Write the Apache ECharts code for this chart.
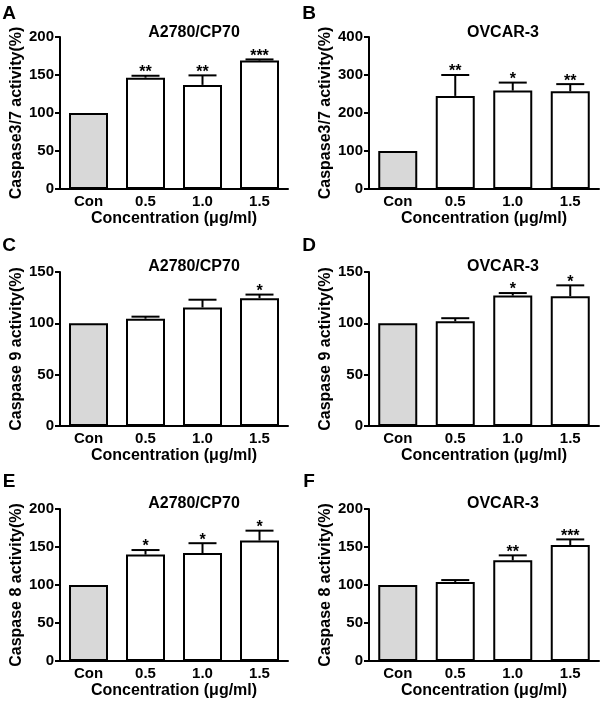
<!DOCTYPE html>
<html>
<head>
<meta charset="utf-8">
<script src="https://cdn.jsdelivr.net/npm/echarts@6/dist/echarts.min.js"></script>
<style>html,body{margin:0;padding:0;background:#fff}#c{width:600px;height:702px}</style>
</head>
<body>
<div id="c"></div>
<script>
const categories = ['Con', '0.5', '1.0', '1.5'];

const aMean = [100, 146.5, 137, 169];
const aErr  = [0, 2.5, 12.5, 1.5];
const aSig  = ['', '**', '**', '***'];

const bMean = [100, 245, 259, 257];
const bErr  = [0, 55, 21, 19];
const bSig  = ['', '**', '*', '**'];

const cMean = [100, 104.5, 115.5, 124.5];
const cErr  = [0, 2, 7.5, 3.5];
const cSig  = ['', '', '', '*'];

const dMean = [100, 102, 127, 126.5];
const dErr  = [0, 3, 2.5, 10.5];
const dSig  = ['', '', '*', '*'];

const eMean = [100, 140, 142, 158.5];
const eErr  = [0, 6, 13, 13];
const eSig  = ['', '*', '*', '*'];

const fMean = [100, 104, 132.5, 152.5];
const fErr  = [0, 2.5, 6.5, 7.5];
const fSig  = ['', '', '**', '***'];

const yMaxes = [200, 400, 150, 150, 200, 200];
const yIntervals = [50, 100, 50, 50, 50, 50];
const yNames = ['Caspase3/7 activity(%)', 'Caspase3/7 activity(%)', 'Caspase 9 activity(%)', 'Caspase 9 activity(%)', 'Caspase 8 activity(%)', 'Caspase 8 activity(%)'];
const xName = 'Concentration (\u03bcg/ml)';
const titles = ['A2780/CP70', 'OVCAR-3', 'A2780/CP70', 'OVCAR-3', 'A2780/CP70', 'OVCAR-3'];
const letters = ['A', 'B', 'C', 'D', 'E', 'F'];

const panels = [
  [aMean, aErr, aSig], [bMean, bErr, bSig],
  [cMean, cErr, cSig], [dMean, dErr, dSig],
  [eMean, eErr, eSig], [fMean, fErr, fSig]
];

const FONT = '"Liberation Sans", Arial, sans-serif';
const colLeft = [60, 369];
const colWidth = [228, 230];
const rowTop = [37, 272, 509];
const rowHeight = [152, 154, 152];
const letterX = [9, 309];
const letterY = [14, 246, 482];
const titleX = [194, 503];
const titleY = [33, 267, 504];

const grids = [], xAxes = [], yAxes = [], series = [], graphics = [];
panels.forEach((p, i) => {
  const col = i % 2, row = Math.floor(i / 2);
  grids.push({ left: colLeft[col], top: rowTop[row], width: colWidth[col], height: rowHeight[row] });
  xAxes.push({
    type: 'category', gridIndex: i, data: categories,
    axisLine: { lineStyle: { color: '#000', width: 2 } },
    axisTick: { show: false },
    axisLabel: { color: '#000', fontWeight: 'bold', fontSize: 15, fontFamily: FONT, margin: 5 },
    name: xName, nameLocation: 'middle', nameGap: 22,
    nameTextStyle: { color: '#000', fontWeight: 'bold', fontSize: 16, fontFamily: FONT }
  });
  yAxes.push({
    type: 'value', gridIndex: i, min: 0, max: yMaxes[i], interval: yIntervals[i],
    axisLine: { show: true, lineStyle: { color: '#000', width: 2 } },
    axisTick: { show: true, length: 5, lineStyle: { color: '#000', width: 2 } },
    splitLine: { show: false },
    axisLabel: { color: '#000', fontWeight: 'bold', fontSize: 15, fontFamily: FONT, margin: 6 },
    name: yNames[i], nameLocation: 'middle', nameGap: 33, nameRotate: 90,
    nameTextStyle: { color: '#000', fontWeight: 'bold', fontSize: 16, fontFamily: FONT }
  });
  const mean = p[0], err = p[1], sig = p[2];
  series.push({
    type: 'bar', xAxisIndex: i, yAxisIndex: i, barWidth: 39,
    data: mean.map((v, k) => ({
      value: v,
      itemStyle: { color: k === 0 ? '#d8d8d8' : '#ffffff', borderColor: '#000', borderWidth: 2 }
    })),
    silent: true, animation: false
  });
  series.push({
    type: 'custom', xAxisIndex: i, yAxisIndex: i,
    data: mean.map((v, k) => [k, v, err[k]]),
    encode: { x: 0, y: 1 },
    silent: true, animation: false, z: 5,
    renderItem: function (params, api) {
      const k = api.value(0), m = api.value(1), e = api.value(2);
      const base = api.coord([k, m]);
      const top = api.coord([k, m + e]);
      const half = 14;
      const children = [];
      if (e > 0) {
        children.push({ type: 'line', shape: { x1: base[0], y1: base[1], x2: top[0], y2: top[1] }, style: { stroke: '#000', lineWidth: 2 } });
        children.push({ type: 'line', shape: { x1: top[0] - half, y1: top[1], x2: top[0] + half, y2: top[1] }, style: { stroke: '#000', lineWidth: 2 } });
      }
      const s = sig[params.dataIndex];
      if (s) {
        children.push({ type: 'text', style: { text: s, x: top[0], y: top[1] + 5, align: 'center', verticalAlign: 'bottom', fill: '#000', font: 'bold 16px ' + FONT } });
      }
      return { type: 'group', children: children };
    }
  });
  graphics.push({ type: 'text', x: letterX[col], y: letterY[row], style: { text: letters[i], fill: '#000', font: 'bold 19px ' + FONT, align: 'center', verticalAlign: 'middle' } });
  graphics.push({ type: 'text', x: titleX[col], y: titleY[row], style: { text: titles[i], fill: '#000', font: 'bold 16px ' + FONT, align: 'center', verticalAlign: 'middle' } });
});

const chart = echarts.init(document.getElementById('c'), null, { renderer: 'canvas' });
chart.setOption({
  animation: false,
  backgroundColor: '#fff',
  grid: grids, xAxis: xAxes, yAxis: yAxes, series: series, graphic: graphics
});
</script>
</body>
</html>
